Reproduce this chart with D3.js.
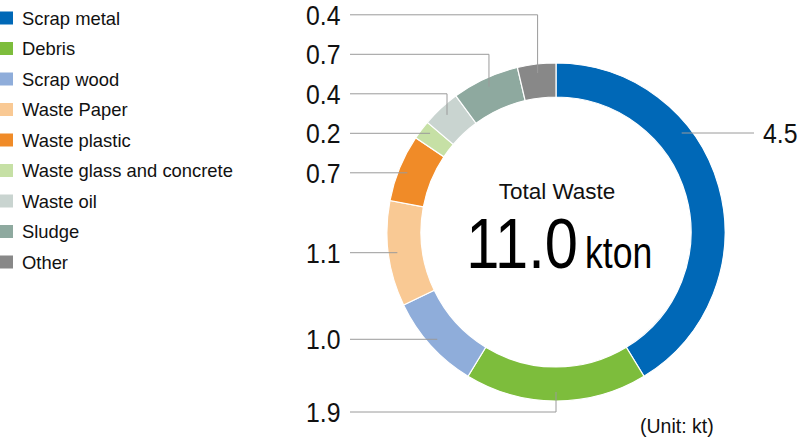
<!DOCTYPE html>
<html>
<head>
  <title>Total Waste Donut</title>
  <style>
    body {
      margin: 0;
      background-color: white;
    }
    svg text {
      font-family: "Liberation Sans", Arial, Helvetica, sans-serif;
    }
  </style>
</head>
<body>

  <svg width="800" height="438"></svg>

  <script src="https://d3js.org/d3.v7.min.js"></script>
  <script>
    const categories = ["Scrap metal", "Debris", "Scrap wood", "Waste Paper", "Waste plastic",
      "Waste glass and concrete", "Waste oil", "Sludge", "Other"];
    const values = [4.5, 1.9, 1.0, 1.1, 0.7, 0.2, 0.4, 0.7, 0.4];
    const colors = ["#0068b7", "#7dbd3c", "#8fadda", "#f9c994", "#f08b28",
      "#c6e0a5", "#c9d4d0", "#8ea99f", "#888888"];
    const totalLabel = "11.0";
    const totalTitle = "Total Waste";
    const unitLabel = "(Unit: kt)";

    const cx = 556, cy = 232;
    const outerR = 169, innerR = 135, leaderR = 160;
    const leftLabelX = 306, leftLineX = 350;
    const rightLineX = 754, rightLabelX = 763;
    const labelGap = 39.5;

    const svg = d3.select("svg");

    // legend
    const legend = svg.append("g");
    const legendY = d3.scalePoint().domain(categories).range([18, 262]);
    categories.forEach((c, i) => {
      legend.append("rect")
        .attr("x", 0).attr("y", legendY(c) - 6.5)
        .attr("width", 13).attr("height", 13)
        .attr("fill", colors[i]);
      legend.append("text")
        .attr("x", 22).attr("y", legendY(c) + 6.5)
        .attr("font-size", 18.4)
        .attr("fill", "#111")
        .text(c);
    });

    // donut
    const pie = d3.pie().sort(null).value(d => d)(values);
    const arc = d3.arc().innerRadius(innerR).outerRadius(outerR);
    const g = svg.append("g").attr("transform", `translate(${cx},${cy})`);
    g.selectAll("path")
      .data(pie)
      .enter()
      .append("path")
      .attr("d", arc)
      .attr("fill", (d, i) => colors[i])
      .attr("stroke", "white")
      .attr("stroke-width", 1.2);

    // label placement
    const labels = pie.map((d, i) => {
      const a = (d.startAngle + d.endAngle) / 2;
      return { d, i, a, left: a > Math.PI - 0.3, y: cy - leaderR * Math.cos(a) };
    });
    labels.forEach(l => {
      if (Math.abs(l.a - Math.PI) < 0.3) l.y = Math.max(l.y, cy + outerR + 11);
      if (!l.left) l.y = cy - 99;
    });
    // push upper-left labels apart, from the bottom upwards
    const upper = labels.filter(l => l.left && l.a > 1.5 * Math.PI).sort((a, b) => b.y - a.y);
    upper[0].y += 1.5;
    for (let k = 1; k < upper.length; k++) {
      upper[k].y = Math.min(upper[k].y, upper[k - 1].y - labelGap);
    }

    const lines = svg.append("g")
      .attr("fill", "none")
      .attr("stroke", "#9a9a9a")
      .attr("stroke-width", 1);

    labels.forEach(l => {
      const startX = l.left ? leftLineX : rightLineX;
      let path;
      const c = (cy - l.y) / leaderR;
      let hit = false;
      if (Math.abs(c) <= 1) {
        const t = Math.acos(c);
        const ang = l.left ? 2 * Math.PI - t : t;
        if (ang >= l.d.startAngle && ang <= l.d.endAngle) {
          const ex = cx + leaderR * Math.sin(ang);
          path = `M${startX},${l.y}H${ex}`;
          hit = true;
        }
      }
      if (!hit) {
        const px = cx + leaderR * Math.sin(l.a);
        const py = cy - leaderR * Math.cos(l.a);
        path = `M${startX},${l.y}H${px}V${py}`;
      }
      lines.append("path").attr("d", path);

      svg.append("text")
        .attr("transform", `translate(${l.left ? leftLabelX : rightLabelX},${l.y + 10}) scale(0.87,1)`)
        .attr("font-size", 28.5)
        .attr("fill", "#111")
        .text(values[l.i].toFixed(1));
    });

    // centre text
    svg.append("text")
      .attr("x", 557).attr("y", 199)
      .attr("text-anchor", "middle")
      .attr("font-size", 22.5)
      .attr("fill", "#111")
      .text(totalTitle);
    svg.append("text")
      .attr("transform", "translate(578,268) scale(0.84,1)")
      .attr("text-anchor", "end")
      .attr("font-size", 71)
      .attr("fill", "#000")
      .text(totalLabel);
    svg.append("text")
      .attr("transform", "translate(585,268) scale(0.79,1)")
      .attr("font-size", 45)
      .attr("fill", "#000")
      .text("kton");

    svg.append("text")
      .attr("x", 640).attr("y", 433)
      .attr("font-size", 19.5)
      .attr("fill", "#111")
      .text(unitLabel);
  </script>
</body>
</html>
